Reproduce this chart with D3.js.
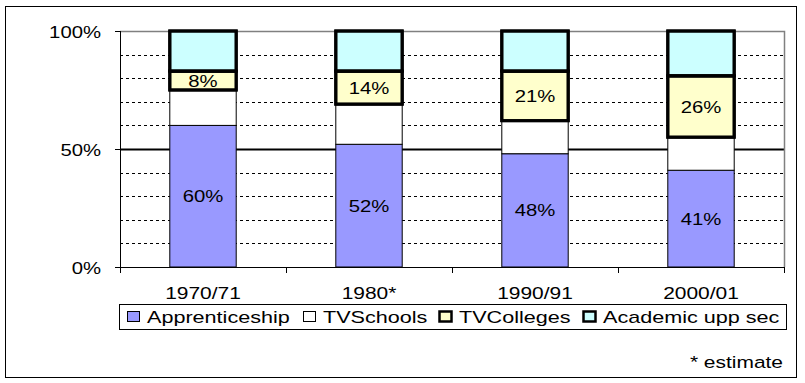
<!DOCTYPE html>
<html><head><meta charset="utf-8">
<script src="https://cdn.jsdelivr.net/npm/d3@7/dist/d3.min.js"></script>
<style>body{margin:0;background:#fff}svg{display:block}text{font-family:"Liberation Sans",Arial,sans-serif;fill:#000}</style>
</head><body>
<script>
const categories = ["1970/71", "1980*", "1990/91", "2000/01"];
const seriesNames = ["Apprenticeship", "TVSchools", "TVColleges", "Academic upp sec"];
const apprenticeship = [60, 52, 48, 41];
const tvSchools = [15, 17, 14, 14];
const tvColleges = [8, 14, 21, 26];
const academic = [17, 17, 17, 19];
const yTicks = [0, 50, 100];
const gridTicks = [10, 20, 30, 40, 60, 70, 80, 90];
const labelSeries = [0, 2];

const colors = ["#9999FF", "#FFFFFF", "#FFFFCC", "#CCFFFF"];
const strokeW = [1, 1, 3, 3];
const SX = 1.27;

const W = 805, H = 383;
const svg = d3.select("body").append("svg").attr("width", W).attr("height", H);

svg.append("rect").attr("x", 5.5).attr("y", 6.5).attr("width", 791).attr("height", 371)
  .attr("fill", "#fff").attr("stroke", "#000").attr("stroke-width", 1);

const L = 120, R = 784, T = 31, B = 267;
const x = d3.scaleBand().domain(categories).range([L, R]).paddingInner(0.6).paddingOuter(0.3);
const y = d3.scaleLinear().domain([0, 100]).range([B, T]);

function stext(g, tx, ty, s, anchor, size) {
  return g.append("text").attr("transform", `translate(${tx},${ty}) scale(${SX},1)`)
    .attr("text-anchor", anchor).attr("font-size", size).text(s);
}

// grid
svg.append("g").selectAll("line").data(gridTicks).join("line")
  .attr("x1", L).attr("x2", R).attr("y1", d => Math.round(y(d)) + 0.5).attr("y2", d => Math.round(y(d)) + 0.5)
  .attr("stroke", "#000").attr("stroke-dasharray", "3,3");
svg.append("line").attr("x1", L).attr("x2", R).attr("y1", Math.round(y(50)) + 0.5).attr("y2", Math.round(y(50)) + 0.5)
  .attr("stroke", "#000").attr("stroke-width", 2);
// plot border top/right
svg.append("path").attr("d", `M${L},${T + 0.5}H${R + 0.5}V${B}`).attr("fill", "none").attr("stroke", "#808080").attr("stroke-width", 1.5);

// stack
const rows = categories.map((c, i) => ({cat: c, s0: apprenticeship[i], s1: tvSchools[i], s2: tvColleges[i], s3: academic[i]}));
const stack = d3.stack().keys(["s0", "s1", "s2", "s3"])(rows);

const gBars = svg.append("g");
stack.forEach((layer, k) => {
  gBars.append("g").selectAll("rect").data(layer).join("rect")
    .attr("x", d => x(d.data.cat)).attr("width", x.bandwidth())
    .attr("y", d => y(d[1])).attr("height", d => y(d[0]) - y(d[1]))
    .attr("fill", colors[k]).attr("stroke", "#000").attr("stroke-width", strokeW[k]);
});
[2, 3].forEach(k => {
  gBars.append("g").selectAll("rect").data(stack[k]).join("rect")
    .attr("x", d => x(d.data.cat)).attr("width", x.bandwidth())
    .attr("y", d => y(d[1])).attr("height", d => y(d[0]) - y(d[1]))
    .attr("fill", "none").attr("stroke", "#000").attr("stroke-width", strokeW[k]);
});

// data labels
const gLab = svg.append("g");
labelSeries.forEach(k => {
  stack[k].forEach(d => {
    const v = d[1] - d[0];
    stext(gLab, x(d.data.cat) + x.bandwidth() / 2, (y(d[0]) + y(d[1])) / 2 + 6, v + "%", "middle", 16);
  });
});

// axes
const ga = svg.append("g");
ga.append("line").attr("x1", L + 0.5).attr("x2", L + 0.5).attr("y1", T).attr("y2", B).attr("stroke", "#000");
ga.append("line").attr("x1", L).attr("x2", R + 0.5).attr("y1", B + 0.5).attr("y2", B + 0.5).attr("stroke", "#000");
yTicks.forEach(t => {
  const yy = Math.round(y(t)) + 0.5;
  ga.append("line").attr("x1", L - 5).attr("x2", L).attr("y1", yy).attr("y2", yy).attr("stroke", "#000");
  stext(ga, 101, yy + 6, t + "%", "end", 16);
});
const step = x.step();
d3.range(categories.length + 1).forEach(i => {
  const xx = Math.round(L + i * step) + 0.5;
  ga.append("line").attr("x1", xx).attr("x2", xx).attr("y1", B).attr("y2", B + 6).attr("stroke", "#000");
});
categories.forEach(c => stext(ga, x(c) + x.bandwidth() / 2, 298.5, c, "middle", 16.5));

// legend
const lg = svg.append("g");
lg.append("rect").attr("x", 119.5).attr("y", 304.5).attr("width", 667).attr("height", 25).attr("fill", "#fff").attr("stroke", "#000");
const legX = [127, 303, 439, 583];
seriesNames.forEach((n, k) => {
  const sw = strokeW[k] === 3 ? 2.5 : 1;
  lg.append("rect").attr("x", legX[k] + 0.5).attr("y", 311.5).attr("width", 12).attr("height", 10)
    .attr("fill", colors[k]).attr("stroke", "#000").attr("stroke-width", sw);
  stext(lg, legX[k] + 20, 323, n, "start", 17);
});

stext(svg, 783, 367.5, "* estimate", "end", 16.5);
</script>
</body></html>
